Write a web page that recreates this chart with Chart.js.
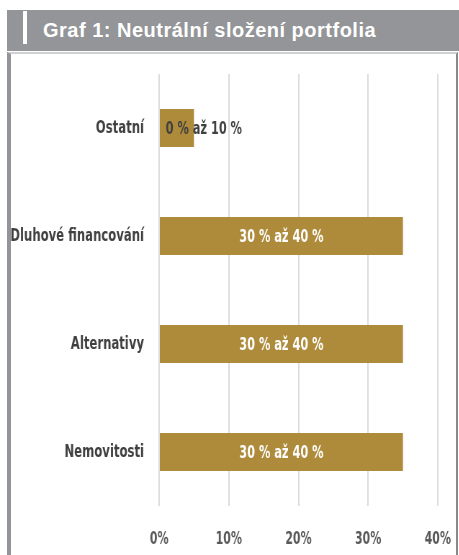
<!DOCTYPE html>
<html>
<head>
<meta charset="utf-8">
<script src="https://cdn.jsdelivr.net/npm/chart.js@4/dist/chart.umd.min.js"></script>
<style>
  html, body { margin: 0; padding: 0; background: #fff; }
  #page { position: relative; width: 459px; height: 555px; overflow: hidden; }
  #header { position: absolute; left: 7px; top: 10px; width: 452px; height: 41px; background: #939598; }
  #header .mark { position: absolute; left: 16px; top: 1px; width: 4px; height: 33px; background: #fff; }
  #header .title { position: absolute; left: 36px; top: 9px; color: #fff; font: bold 20px "Liberation Sans", Arial, sans-serif; letter-spacing: 0.5px; white-space: nowrap; }
  #box { position: absolute; left: 7px; top: 52px; width: 445px; height: 510px; border-top: 2px solid #d0d0d2; border-left: 4px solid #939598; border-right: 2px solid #8a8a8c; }
  /* the source chart uses a very narrow font, so the canvas is squeezed sideways */
  #chart { position: absolute; left: 0; top: 0; width: 638px; height: 555px; transform: scaleX(0.72); transform-origin: 0 0; }
</style>
</head>
<body>
<div id="page">
  <div id="header"><div class="mark"></div><div class="title">Graf 1: Neutrální složení portfolia</div></div>
  <div id="box"></div>
  <canvas id="chart" width="638" height="555"></canvas>
</div>
<script>
// chart data
const categories = ['Ostatní', 'Dluhové financování', 'Alternativy', 'Nemovitosti'];
const values = [5, 35, 35, 35];
const rangeLabels = ['0 % až 10 %', '30 % až 40 %', '30 % až 40 %', '30 % až 40 %'];
const tickValues = [0, 10, 20, 30, 40];

const narrowFont = '"DejaVu Sans Condensed", "Liberation Sans Narrow", sans-serif';

// draws the range text on each bar
const barLabels = {
    id: 'barLabels',
    afterDatasetsDraw(chart) {
        const ctx = chart.ctx;
        const meta = chart.getDatasetMeta(0);
        ctx.save();
        ctx.font = 'bold 17.5px ' + narrowFont;
        ctx.textBaseline = 'middle';
        meta.data.forEach((bar, i) => {
            const text = rangeLabels[i];
            const w = ctx.measureText(text).width;
            const barW = bar.x - bar.base;
            if (w + 10 < barW) {
                ctx.fillStyle = '#ffffff';
                ctx.textAlign = 'center';
                ctx.fillText(text, (bar.x + bar.base) / 2, bar.y + 1);
            } else {
                ctx.fillStyle = '#404040';
                ctx.textAlign = 'left';
                ctx.fillText(text, bar.base + 8, bar.y + 1);
            }
        });
        ctx.restore();
    }
};

new Chart(document.getElementById('chart'), {
    type: 'bar',
    data: {
        labels: categories,
        datasets: [{
            data: values,
            backgroundColor: '#ae8b3a',
            borderWidth: 0,
            categoryPercentage: 1,
            barPercentage: 0.35
        }]
    },
    options: {
        indexAxis: 'y',
        responsive: false,
        animation: false,
        devicePixelRatio: 1,
        layout: { padding: { top: 74, right: 30, bottom: 0, left: 0 } },
        plugins: {
            legend: { display: false },
            tooltip: { enabled: false }
        },
        scales: {
            x: {
                min: 0,
                max: 40,
                afterFit: scale => {
                    scale.height = 49;
                    scale.paddingLeft = 0;
                    scale.paddingRight = 0;
                },
                afterBuildTicks: scale => { scale.ticks = tickValues.map(v => ({ value: v })); },
                grid: { color: '#dcdcdc', lineWidth: 2, drawTicks: false },
                border: { display: false },
                ticks: {
                    padding: 23,
                    color: '#595959',
                    font: { family: narrowFont, size: 17, weight: 'bold' },
                    callback: v => v + '%'
                }
            },
            y: {
                afterFit: scale => { scale.width = 221; },
                grid: { display: false, drawTicks: false },
                border: { display: false },
                ticks: {
                    padding: 21,
                    color: '#404040',
                    font: { family: narrowFont, size: 18, weight: 'bold' }
                }
            }
        }
    },
    plugins: [barLabels]
});
</script>
</body>
</html>
